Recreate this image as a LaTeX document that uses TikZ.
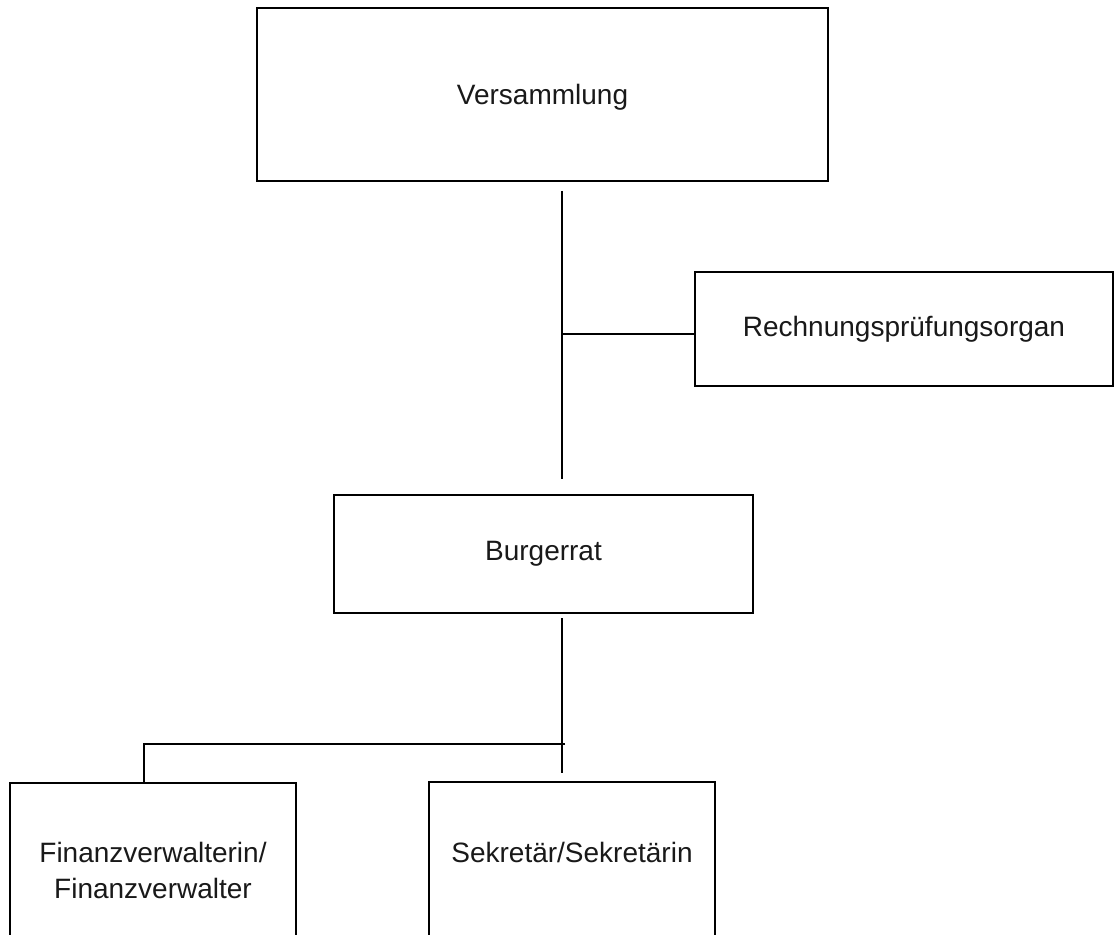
\documentclass[tikz,border=0pt]{standalone}
\usepackage{fontspec}
\setmainfont{Liberation Sans}
\begin{document}
\begin{tikzpicture}[x=0.5pt,y=-0.5pt,
  orgbox/.style={draw=black, line width=1pt, inner sep=0pt, text=black!90, font=\fontsize{14}{18}\selectfont},
  txt/.style={inner sep=0pt, text=black!90, font=\fontsize{14}{18}\selectfont, align=center},
  conn/.style={draw=black, line width=1pt}]
\useasboundingbox (0,0) rectangle (1114,935);
\fill[white] (0,0) rectangle (1114,935);
\clip (0,0) rectangle (1114,935);
% boxes
\node[orgbox, minimum width=285.5pt, minimum height=86.5pt] (vers) at (542.5,94.5) {};
\node[txt] (verstxt) at (542.5,97) {Versammlung};
\node[orgbox, minimum width=209pt, minimum height=57pt] (rech) at (904,329) {Rechnungsprüfungsorgan};
\node[orgbox, minimum width=209.5pt, minimum height=59pt] (burg) at (543.5,554) {Burgerrat};
\node[orgbox, minimum width=143pt, minimum height=88.5pt] (fin) at (153,871.5) {};
\node[orgbox, minimum width=143pt, minimum height=89pt] (sek) at (572,871) {};
\node[txt] (fintxt) at (153,870) {Finanzverwalterin/\\Finanzverwalter};
\node[txt, anchor=base] (sektxt) at (572,862) {Sekretär/Sekretärin};
% connector points
\coordinate (vtop) at (562,191);
\coordinate (vbot) at (562,479);
\coordinate (j1) at (562,334);
\coordinate (btop) at (562,618);
\coordinate (bbot) at (562,773);
\coordinate (hr) at (565,744);
\coordinate (hl) at (144,744);
% connectors
\draw[conn] (vtop) -- (vbot);
\draw[conn] (j1) -- (j1 -| rech.west);
\draw[conn] (btop) -- (bbot);
\draw[conn] (hr) -- (hl) -- (hl |- fin.north);
\end{tikzpicture}
\end{document}
